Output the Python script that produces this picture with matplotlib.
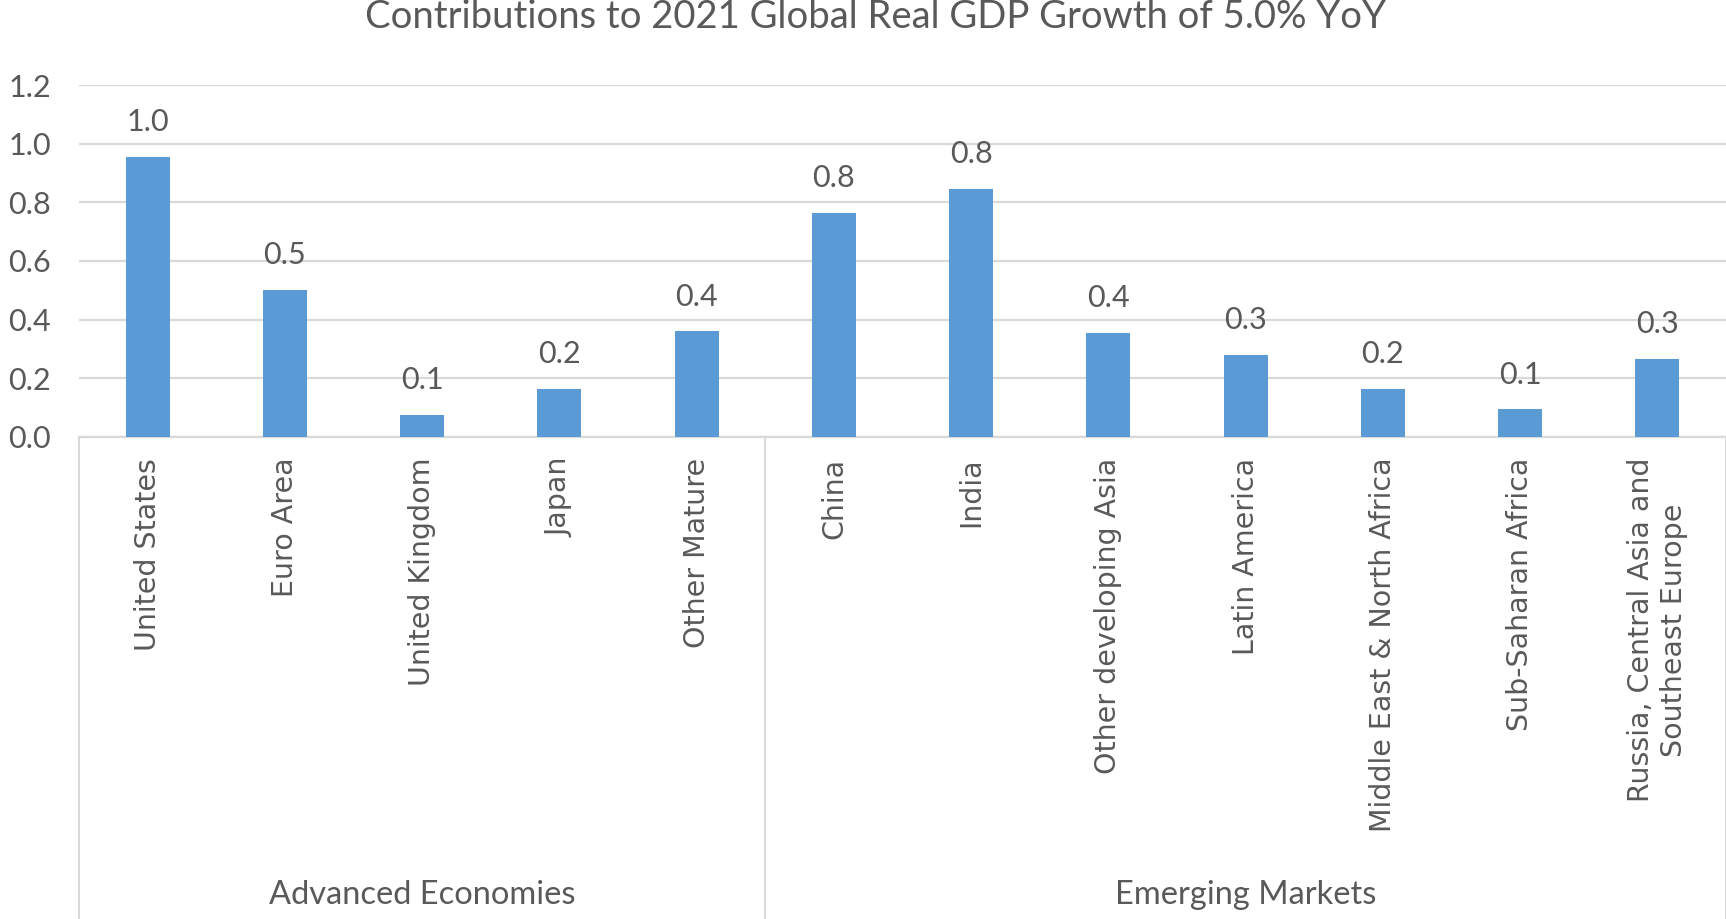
import numpy as np
import matplotlib.pyplot as plt
from matplotlib import transforms

categories = ["United States", "Euro Area", "United Kingdom", "Japan", "Other Mature",
              "China", "India", "Other developing Asia", "Latin America",
              "Middle East & North Africa", "Sub-Saharan Africa",
              "Russia, Central Asia and\nSoutheast Europe"]
values = [0.955, 0.50, 0.075, 0.165, 0.36, 0.765, 0.845, 0.355, 0.28, 0.165, 0.094, 0.265]
groups = ["Advanced Economies", "Emerging Markets"]
group_sizes = [5, 7]
yticks = [0.0, 0.2, 0.4, 0.6, 0.8, 1.0, 1.2]

grey = "#595959"
gridc = "#d9d9d9"
blue = "#5b9bd5"
lbl_font = "Lato"

fig = plt.figure(figsize=(17.26, 9.19), dpi=100)
ax = fig.add_axes([79/1726, 1 - 437/919, (1726 - 79)/1726, 352/919])

x = np.arange(len(categories))
bars = ax.bar(x, values, width=0.32, color=blue, zorder=3)
ax.bar_label(bars, labels=[f"{v:.1f}" for v in values], padding=15,
             fontsize=22, color=grey, family=lbl_font)

ax.set_xlim(-0.5, len(categories) - 0.5)
ax.set_ylim(0, 1.2)
ax.set_yticks(yticks)
ax.set_yticklabels([f"{t:.1f}" for t in yticks], fontsize=22, color=grey, family=lbl_font)
ax.yaxis.grid(True, color=gridc, linewidth=1.6, zorder=0)
ax.tick_params(axis="y", length=0, pad=20)
ax.set_xticks(x)
ax.set_xticklabels(categories, rotation=90, fontsize=20.5, color=grey,
                   family="DejaVu Sans", multialignment="center")
ax.tick_params(axis="x", length=0, pad=15)
for s in ["top", "right", "left"]:
    ax.spines[s].set_visible(False)
ax.spines["bottom"].set_color(gridc)
ax.spines["bottom"].set_linewidth(1.6)

# group dividers and labels under the axis
trans = transforms.blended_transform_factory(ax.transData, ax.transAxes)
bottom = -482/352
edges = np.concatenate([[0], np.cumsum(group_sizes)]) - 0.5
for e in edges:
    ax.plot([e, e], [0, bottom], color=gridc, linewidth=1.5, transform=trans, clip_on=False)
for g, a, b in zip(groups, edges[:-1], edges[1:]):
    ax.text((a + b) / 2, -458/352, g, transform=trans, ha="center", va="center",
            fontsize=23.5, color=grey, family=lbl_font)

fig.text(0.507, 1 - 17/919, "Contributions to 2021 Global Real GDP Growth of 5.0% YoY",
         ha="center", va="center", fontsize=27.5, color=grey, family=lbl_font)

fig.savefig("out.png", dpi=100, facecolor="white")
